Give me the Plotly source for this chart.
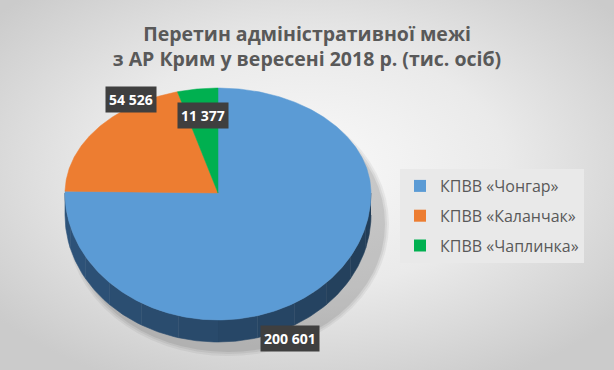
import base64
import numpy as np
import plotly.graph_objects as go

# ---- data ----
categories = ["КПВВ «Чонгар»", "КПВВ «Каланчак»", "КПВВ «Чаплинка»"]
values = [200601, 54526, 11377]
colors = ["#5b9bd5", "#ed7d31", "#00b050"]
title_lines = ["Перетин адміністративної межі", "з АР Крим у вересені 2018 р. (тис. осіб)"]

W, H = 614, 370
cx, cy = 218, 193
rx, ry_top, ry_bot = 153, 105, 127
depth = 22


def pt(a_deg, dy=0.0):
    a = np.radians(a_deg)
    ry = np.where(np.cos(a) > 0, ry_top, ry_bot)
    return cx + rx * np.sin(a), cy - ry * np.cos(a) + dy


fig = go.Figure()

# soft shadow to the lower right
for k, op in enumerate([0.05, 0.06, 0.08]):
    g = 6 - 2 * k
    fig.add_shape(type="circle", xref="x", yref="y",
                  x0=cx - rx + 8 - g, x1=cx + rx + 12 + g,
                  y0=cy - ry_top + 10 - g, y1=cy + ry_bot + depth + 8 + g,
                  fillcolor="rgba(0,0,0,%s)" % op, line_width=0, layer="below")

total = float(sum(values))
bounds = np.concatenate([[0.0], np.cumsum(values) / total * 360.0])

# side walls (front half only, 90..270 deg clockwise from top)
for i in range(len(values)):
    a0, a1 = max(bounds[i], 90.0), min(bounds[i + 1], 270.0)
    if a1 <= a0:
        continue
    nseg = 12
    edges = np.linspace(a0, a1, nseg + 1)
    for j in range(nseg):
        aa = np.linspace(edges[j], edges[j + 1], 20)
        xt, yt = pt(aa)
        xb, yb = pt(aa[::-1], depth)
        t = (edges[j] - 90) / 180.0
        base = np.array([0x22, 0x3d, 0x57])
        light = base + np.array([14, 26, 40]) * t
        col = "rgb(%d,%d,%d)" % tuple(light.astype(int))
        fig.add_trace(go.Scatter(x=np.concatenate([xt, xb]), y=np.concatenate([yt, yb]),
                                 fill="toself", mode="lines", line=dict(width=0.6, color=col),
                                 fillcolor=col, hoverinfo="skip", showlegend=False))

# top faces
for i, (name, v) in enumerate(zip(categories, values)):
    aa = np.linspace(bounds[i], bounds[i + 1], max(int((bounds[i + 1] - bounds[i]) * 2), 8))
    xs, ys = pt(aa)
    xs = np.concatenate([[cx], xs, [cx]])
    ys = np.concatenate([[cy], ys, [cy]])
    fig.add_trace(go.Scatter(x=xs, y=ys, fill="toself", mode="lines",
                             line=dict(width=0.5, color=colors[i]), fillcolor=colors[i],
                             name=name, hoverinfo="name", showlegend=False))

# legend entries
for i, name in enumerate(categories):
    fig.add_trace(go.Scatter(x=[None], y=[None], mode="markers", name=name, legendgroup=name,
                             marker=dict(symbol="square", size=11, color=colors[i])))

# data labels
label_pos = [(290, 338), (131, 99), (203, 115)]
for (lx, ly), v in zip(label_pos, values):
    txt = "{:,}".format(v).replace(",", " ")
    fig.add_annotation(x=lx, y=ly, xref="x", yref="y", text="<b>%s</b>" % txt, showarrow=False,
                       font=dict(family="Open Sans", size=14, color="white"),
                       bgcolor="#3f3f3f", borderpad=3)

# background radial gradient
svg = ('<svg xmlns="http://www.w3.org/2000/svg" width="%d" height="%d">'
       '<defs><radialGradient id="g" cx="50%%" cy="45%%" r="65%%">'
       '<stop offset="0%%" stop-color="#f9f9f9"/><stop offset="50%%" stop-color="#eaeaea"/>'
       '<stop offset="100%%" stop-color="#cbcbcb"/></radialGradient></defs>'
       '<rect width="100%%" height="100%%" fill="url(#g)"/></svg>') % (W, H)
uri = "data:image/svg+xml;base64," + base64.b64encode(svg.encode()).decode()

fig.update_layout(
    width=W, height=H,
    margin=dict(l=0, r=0, t=0, b=0, pad=0, autoexpand=False),
    paper_bgcolor="#e4e4e4", plot_bgcolor="rgba(0,0,0,0)",
    images=[dict(source=uri, xref="paper", yref="paper", x=0, y=1, sizex=1, sizey=1,
                 sizing="stretch", layer="below", xanchor="left", yanchor="top")],
    xaxis=dict(range=[0, W], visible=False, fixedrange=True, domain=[0, 1]),
    yaxis=dict(range=[H, 0], visible=False, fixedrange=True, domain=[0, 1]),
    title=dict(text="<b>" + "<br>".join(title_lines) + "</b>", x=0.5, xanchor="center",
               y=1 - 41 / H, yanchor="middle",
               font=dict(family="Open Sans", size=19.5, color="#595959")),
    legend=dict(x=400 / W, y=1 - 169 / H, xanchor="left", yanchor="top",
                bgcolor="#e9e9e9", font=dict(family="Open Sans", size=16, color="#595959"),
                tracegroupgap=6, itemsizing="constant"),
    showlegend=True,
)

fig.write_html("out.html", config={"displayModeBar": False},
               post_script="document.body.style.margin='0';document.body.style.padding='0';")
